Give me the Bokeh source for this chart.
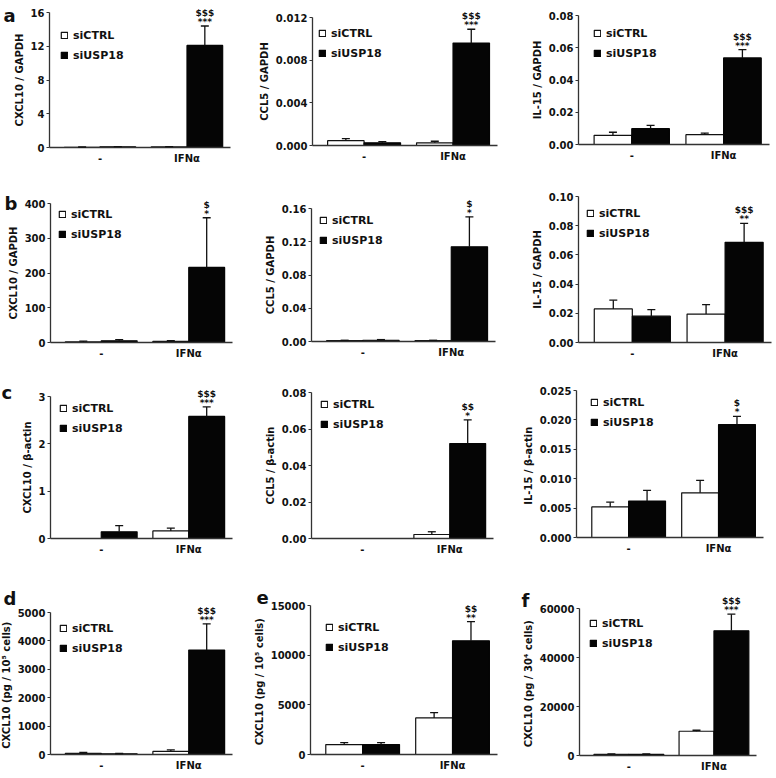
from bokeh.plotting import figure
from bokeh.layouts import column, row
from bokeh.models import (Range1d, FixedTicker, PrintfTickFormatter, Legend, LegendItem,
                          Label, Whisker, ColumnDataSource, TeeHead)
from bokeh.embed import file_html
from bokeh.resources import INLINE

# ---------------- data ----------------
groups = ["-", "IFNα"]
series = ["siCTRL", "siUSP18"]

a1_ylabel = "CXCL10 / GAPDH"
a1_ticks = [0, 4, 8, 12, 16]
a1_ctrl = [0.03, 0.08]
a1_ctrl_err = [0.03, 0.03]
a1_usp = [0.08, 12.1]
a1_usp_err = [0.03, 2.3]
a1_sig = ["***", "$$$"]

a2_ylabel = "CCL5 / GAPDH"
a2_ticks = [0.0, 0.004, 0.008, 0.012]
a2_ctrl = [0.00045, 0.00025]
a2_ctrl_err = [0.0002, 0.00015]
a2_usp = [0.00025, 0.0096]
a2_usp_err = [0.00012, 0.0013]
a2_sig = ["***", "$$$"]

a3_ylabel = "IL-15 / GAPDH"
a3_ticks = [0.0, 0.02, 0.04, 0.06, 0.08]
a3_ctrl = [0.0057, 0.0061]
a3_ctrl_err = [0.0019, 0.001]
a3_usp = [0.0098, 0.0537]
a3_usp_err = [0.002, 0.0051]
a3_sig = ["***", "$$$"]

b1_ylabel = "CXCL10 / GAPDH"
b1_ticks = [0, 100, 200, 300, 400]
b1_ctrl = [2, 3]
b1_ctrl_err = [2, 2]
b1_usp = [5, 216]
b1_usp_err = [3, 143]
b1_sig = ["*", "$"]

b2_ylabel = "CCL5 / GAPDH"
b2_ticks = [0.0, 0.04, 0.08, 0.12, 0.16]
b2_ctrl = [0.001, 0.001]
b2_ctrl_err = [0.0005, 0.0005]
b2_usp = [0.0015, 0.114]
b2_usp_err = [0.0008, 0.036]
b2_sig = ["*", "$"]

b3_ylabel = "IL-15 / GAPDH"
b3_ticks = [0.0, 0.02, 0.04, 0.06, 0.08, 0.10]
b3_ctrl = [0.023, 0.0195]
b3_ctrl_err = [0.006, 0.0065]
b3_usp = [0.018, 0.0686]
b3_usp_err = [0.0045, 0.013]
b3_sig = ["**", "$$$"]

c1_ylabel = "CXCL10 / β-actin"
c1_ticks = [0, 1, 2, 3]
c1_ctrl = [0.0, 0.16]
c1_ctrl_err = [0.0, 0.06]
c1_usp = [0.14, 2.58]
c1_usp_err = [0.13, 0.2]
c1_sig = ["***", "$$$"]

c2_ylabel = "CCL5 / β-actin"
c2_ticks = [0.0, 0.02, 0.04, 0.06, 0.08]
c2_ctrl = [0.0, 0.0022]
c2_ctrl_err = [0.0, 0.0015]
c2_usp = [0.0, 0.052]
c2_usp_err = [0.0, 0.013]
c2_sig = ["*", "$$"]

c3_ylabel = "IL-15  / β-actin"
c3_ticks = [0.0, 0.005, 0.010, 0.015, 0.020, 0.025]
c3_ctrl = [0.0052, 0.0076]
c3_ctrl_err = [0.0008, 0.0021]
c3_usp = [0.0062, 0.0192]
c3_usp_err = [0.0018, 0.0014]
c3_sig = ["*", "$"]

d_ylabel = "CXCL10  (pg / 10⁵ cells)"
d_ticks = [0, 1000, 2000, 3000, 4000, 5000]
d_ctrl = [40, 110]
d_ctrl_err = [30, 50]
d_usp = [25, 3680]
d_usp_err = [10, 920]
d_sig = ["***", "$$$"]

e_ylabel = "CXCL10  (pg / 10⁵ cells)"
e_ticks = [0, 5000, 10000, 15000]
e_ctrl = [1000, 3680]
e_ctrl_err = [200, 530]
e_usp = [1000, 11440]
e_usp_err = [200, 1940]
e_sig = ["**", "$$"]

f_ylabel = "CXCL10  (pg / 30⁴ cells)"
f_ticks = [0, 20000, 40000, 60000]
f_ctrl = [500, 9900]
f_ctrl_err = [150, 400]
f_usp = [500, 50900]
f_usp_err = [150, 6800]
f_sig = ["***", "$$$"]

# ---------------- layout (page pixels) ----------------
COL_X = [0, 250, 510]
COL_W = [250, 260, 264]
ROW_Y = [0, 178, 374, 576]
ROW_H = [178, 196, 202, 200]
X0, X1 = 0.42, 2.5          # x extent of the category axis (group centres at 1 and 2)
BAR_W = 0.41

FONT = "DejaVu Sans"
INK = "#111111"


def panel(r, c, letter, ylabel, ticks, fmt, ctrl, ctrl_err, usp, usp_err, sig,
          frame, leg, letter_xy):
    cx, cy, cw, ch = COL_X[c], ROW_Y[r], COL_W[c], ROW_H[r]
    L, R, T, B = frame
    # map axis box (L..R, T..B) onto the data extents; frame covers the whole cell
    pxy = (B - T) / (ticks[-1] - ticks[0])
    y0 = ticks[0] - (cy + ch - B) / pxy
    y1 = ticks[-1] + (T - cy) / pxy
    pxx = (R - L) / (X1 - X0)
    x0 = X0 - (L - cx) / pxx
    x1 = X1 + (cx + cw - R) / pxx

    pos = [i + 1 for i in range(len(groups))]
    p = figure(width=cw, height=ch, output_backend="svg", toolbar_location=None,
               x_range=Range1d(x0, x1), y_range=Range1d(y0, y1),
               min_border=0, min_border_left=0, min_border_right=0,
               min_border_top=0, min_border_bottom=0)
    p.title.visible = False
    p.outline_line_color = None
    p.xgrid.visible = False
    p.ygrid.visible = False
    p.background_fill_color = "white"
    p.border_fill_color = "white"

    xc = [x - BAR_W / 2 for x in pos]
    xu = [x + BAR_W / 2 for x in pos]
    rc = p.vbar(x=xc, top=ctrl, bottom=0, width=BAR_W, fill_color="white",
                line_color=INK, line_width=1.2)
    ru = p.vbar(x=xu, top=usp, bottom=0, width=BAR_W, fill_color="#050505",
                line_color="#050505", line_width=1.2)

    for xs, vals, errs in ((xc, ctrl, ctrl_err), (xu, usp, usp_err)):
        keep = [i for i, e in enumerate(errs) if e > 0]
        if not keep:
            continue
        ws = ColumnDataSource(dict(x=[xs[i] for i in keep],
                                   lo=[vals[i] for i in keep],
                                   hi=[vals[i] + errs[i] for i in keep]))
        w = Whisker(source=ws, base="x", lower="lo", upper="hi", dimension="height",
                    lower_head=None,
                    upper_head=TeeHead(size=8, line_color=INK, line_width=1.3),
                    line_color=INK, line_width=1.3, level="overlay")
        p.add_layout(w)

    # significance marks over the treated siUSP18 bar
    top = usp[-1] + usp_err[-1]
    p.add_layout(Label(x=xu[-1], y=top, text=sig[0], y_offset=4, text_align="center",
                       text_baseline="alphabetic", text_font=FONT,
                       text_font_style="bold", text_font_size="9px", text_color=INK))
    p.add_layout(Label(x=xu[-1], y=top, text=sig[1], y_offset=13, text_align="center",
                       text_baseline="alphabetic", text_font=FONT,
                       text_font_style="bold", text_font_size="9px", text_color=INK))

    if letter:
        lx, ly = letter_xy
        p.add_layout(Label(x=lx - cx, y=cy + ch - ly, x_units="screen", y_units="screen",
                           text=letter, text_align="left", text_baseline="alphabetic",
                           text_font=FONT, text_font_style="bold",
                           text_font_size="18px", text_color=INK))

    # axes, pinned to the data origin
    ya = p.yaxis[0]
    ya.fixed_location = X0
    ya.bounds = (ticks[0], ticks[-1])
    ya.ticker = FixedTicker(ticks=ticks)
    ya.formatter = PrintfTickFormatter(format=fmt)
    ya.axis_label = ylabel
    ya.axis_label_text_font = FONT
    ya.axis_label_text_font_style = "bold"
    ya.axis_label_text_font_size = "10px"
    ya.axis_label_text_color = INK
    ya.axis_label_standoff = 3
    ya.major_label_text_font = FONT
    ya.major_label_text_font_style = "bold"
    ya.major_label_text_font_size = "10px"
    ya.major_label_text_color = INK
    ya.major_label_standoff = 2
    ya.major_tick_in = 0
    ya.major_tick_out = 3
    ya.minor_tick_in = 0
    ya.minor_tick_out = 0
    ya.axis_line_width = 1.3
    ya.axis_line_color = "#333333"
    ya.major_tick_line_color = "#333333"
    ya.major_tick_line_width = 1.2

    xa = p.xaxis[0]
    xa.fixed_location = 0
    xa.bounds = (X0, X1)
    xa.ticker = FixedTicker(ticks=pos)
    xa.major_label_overrides = {pp: g for pp, g in zip(pos, groups)}
    xa.major_label_text_font = FONT
    xa.major_label_text_font_style = "bold"
    xa.major_label_text_font_size = "10px"
    xa.major_label_text_color = INK
    xa.major_label_standoff = 5
    xa.major_tick_in = 0
    xa.major_tick_out = 0
    xa.minor_tick_in = 0
    xa.minor_tick_out = 0
    xa.axis_line_width = 1.3
    xa.axis_line_color = "#333333"

    # legend
    dx, dy = leg
    legend_top = T + dy - 7
    lg = Legend(items=[LegendItem(label=series[0], renderers=[rc]),
                       LegendItem(label=series[1], renderers=[ru])],
                location=(L + dx - cx, cy + ch - legend_top - 34),
                glyph_width=8, glyph_height=8, label_height=14, spacing=6,
                label_standoff=5, padding=0, margin=0,
                border_line_color=None, background_fill_alpha=0,
                label_text_font=FONT, label_text_font_style="bold",
                label_text_font_size="11px", label_text_color=INK)
    p.add_layout(lg)
    return p


pa1 = panel(0, 0, "a", a1_ylabel, a1_ticks, "%d", a1_ctrl, a1_ctrl_err, a1_usp, a1_usp_err, a1_sig,
            (49, 230, 12, 147), (11, 23), (3, 15))
pa2 = panel(0, 1, None, a2_ylabel, a2_ticks, "%.3f", a2_ctrl, a2_ctrl_err, a2_usp, a2_usp_err, a2_sig,
            (312, 497, 17, 145), (6, 16), None)
pa3 = panel(0, 2, None, a3_ylabel, a3_ticks, "%.2f", a3_ctrl, a3_ctrl_err, a3_usp, a3_usp_err, a3_sig,
            (578, 769, 15, 144), (15, 18), None)

pb1 = panel(1, 0, "b", b1_ylabel, b1_ticks, "%d", b1_ctrl, b1_ctrl_err, b1_usp, b1_usp_err, b1_sig,
            (50, 232, 203, 342), (8, 11), (4, 203))
pb2 = panel(1, 1, None, b2_ylabel, b2_ticks, "%.2f", b2_ctrl, b2_ctrl_err, b2_usp, b2_usp_err, b2_sig,
            (311, 495, 208, 341), (8, 12), None)
pb3 = panel(1, 2, None, b3_ylabel, b3_ticks, "%.2f", b3_ctrl, b3_ctrl_err, b3_usp, b3_usp_err, b3_sig,
            (578, 771, 196, 342), (8, 17), None)

pc1 = panel(2, 0, "c", c1_ylabel, c1_ticks, "%d", c1_ctrl, c1_ctrl_err, c1_usp, c1_usp_err, c1_sig,
            (50, 232, 396, 538), (9, 12), (1, 392))
pc2 = panel(2, 1, None, c2_ylabel, c2_ticks, "%.2f", c2_ctrl, c2_ctrl_err, c2_usp, c2_usp_err, c2_sig,
            (311, 493, 392, 538), (9, 12), None)
pc3 = panel(2, 2, None, c3_ylabel, c3_ticks, "%.3f", c3_ctrl, c3_ctrl_err, c3_usp, c3_usp_err, c3_sig,
            (576, 763, 390, 537), (14, 12), None)

pd = panel(3, 0, "d", d_ylabel, d_ticks, "%d", d_ctrl, d_ctrl_err, d_usp, d_usp_err, d_sig,
           (50, 232, 612, 754), (9, 16), (3, 598))
pe = panel(3, 1, "e", e_ylabel, e_ticks, "%d", e_ctrl, e_ctrl_err, e_usp, e_usp_err, e_sig,
           (310, 497, 605, 754), (15, 22), (256, 597))
pf = panel(3, 2, "f", f_ylabel, f_ticks, "%d", f_ctrl, f_ctrl_err, f_usp, f_usp_err, f_sig,
           (579, 756, 608, 755), (10, 15), (521, 600))

layout = column(row(pa1, pa2, pa3), row(pb1, pb2, pb3), row(pc1, pc2, pc3), row(pd, pe, pf))

open("out.html", "w").write(file_html(layout, INLINE, title="USP18 knockdown"))
